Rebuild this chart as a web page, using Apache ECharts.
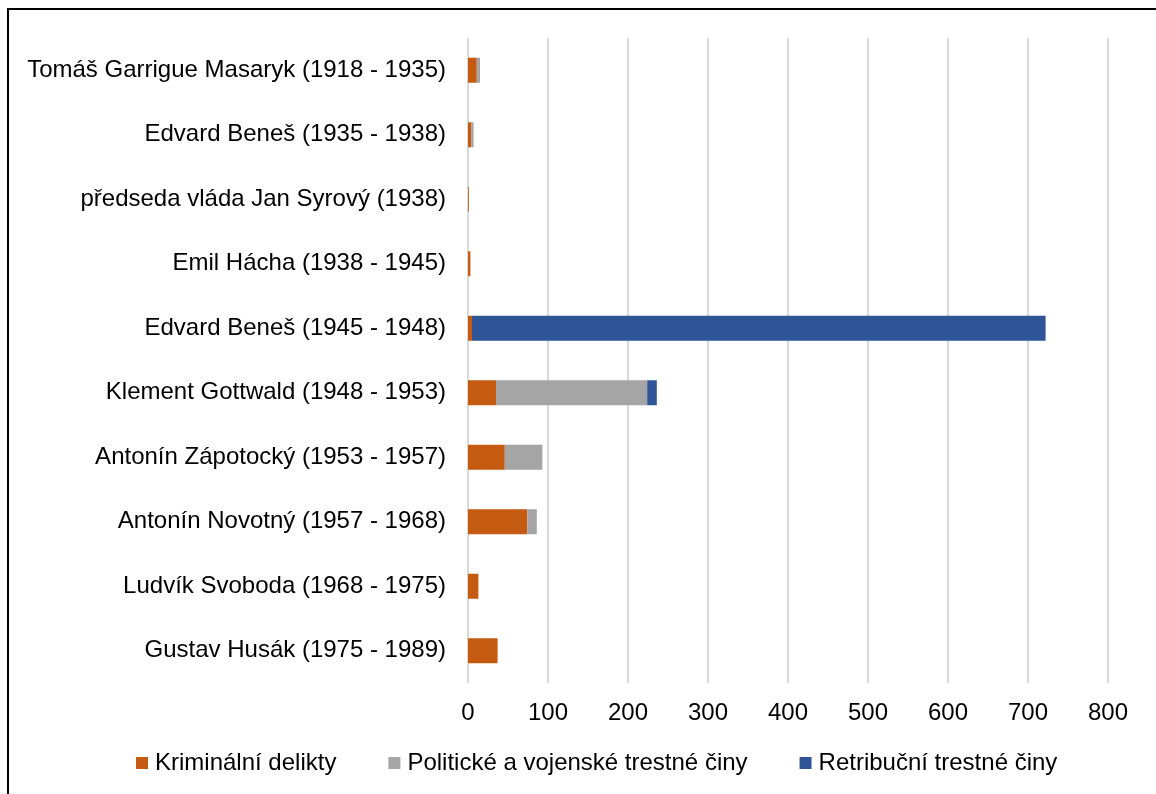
<!DOCTYPE html>
<html>
<head>
<meta charset="utf-8">
<script src="https://cdn.jsdelivr.net/npm/echarts@6/dist/echarts.min.js"></script>
<style>
    html, body { margin: 0; padding: 0; background: #fff; }
    .frame {
        position: absolute; left: 7px; top: 8px; width: 1160px; height: 800px;
        border-left: 2px solid #000; border-top: 2px solid #000;
    }
    .echarts_1 { position: absolute; left: 0; top: 0; width: 1156px; height: 794px; }
</style>
</head>
<body>
<div class="frame"></div>
<div class="echarts_1"></div>
<script>
// kategorie (prezidenti)
var categories = [
    'Tomáš Garrigue Masaryk (1918 - 1935)',
    'Edvard Beneš (1935 - 1938)',
    'předseda vláda Jan Syrový (1938)',
    'Emil Hácha (1938 - 1945)',
    'Edvard Beneš (1945 - 1948)',
    'Klement Gottwald (1948 - 1953)',
    'Antonín Zápotocký (1953 - 1957)',
    'Antonín Novotný (1957 - 1968)',
    'Ludvík Svoboda (1968 - 1975)',
    'Gustav Husák (1975 - 1989)'
];
var seriesNames = ['Kriminální delikty', 'Politické a vojenské trestné činy', 'Retribuční trestné činy'];
var kriminalni = [11, 4, 1, 3, 5, 35, 46, 74, 13, 37];
var politicke = [4, 3, 0, 0, 0, 189, 47, 12, 0, 0];
var retribucni = [0, 0, 0, 0, 717, 12, 0, 0, 0, 0];
var colors = ['#C55A11', '#A5A5A5', '#2F5597'];

var chart = echarts.init(document.querySelector('.echarts_1'));
var font = 'Liberation Sans, Arial, sans-serif';

function makeSeries(i, data) {
    return {
        name: seriesNames[i],
        type: 'bar',
        stack: 'celkem',
        barWidth: 25,
        data: data,
        itemStyle: { color: colors[i] }
    };
}

var option = {
    animation: false,
    textStyle: { fontFamily: font },
    grid: { left: 468, right: 48, top: 38, bottom: 111, containLabel: false },
    legend: {
        bottom: 14,
        left: 131,
        itemWidth: 12,
        itemHeight: 12,
        itemGap: 52,
        icon: 'rect',
        textStyle: { fontSize: 24, color: '#000', fontFamily: font, padding: [0, 0, 0, 2] },
        data: seriesNames
    },
    xAxis: {
        type: 'value',
        min: 0,
        max: 800,
        interval: 100,
        axisLine: { show: false },
        axisTick: { show: false },
        axisLabel: { fontSize: 24, color: '#000', margin: 18 },
        splitLine: { lineStyle: { color: '#d9d9d9', width: 2 } }
    },
    yAxis: {
        type: 'category',
        inverse: true,
        data: categories,
        axisLine: { show: false },
        axisTick: { show: false },
        axisLabel: { fontSize: 24, color: '#000', margin: 22 }
    },
    series: [
        makeSeries(0, kriminalni),
        makeSeries(1, politicke),
        makeSeries(2, retribucni)
    ]
};

chart.setOption(option);
</script>
</body>
</html>
